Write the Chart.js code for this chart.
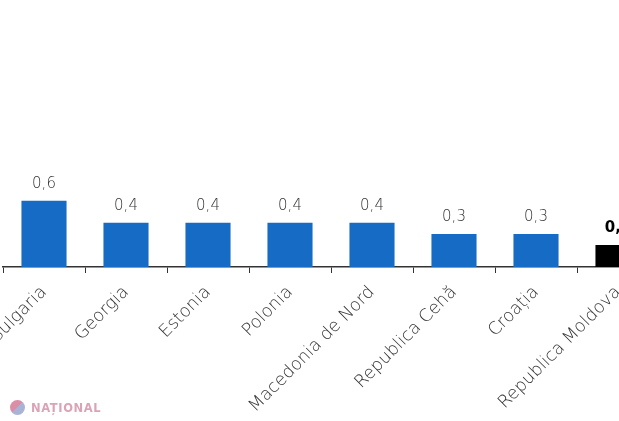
<!DOCTYPE html>
<html>
<head>
<meta charset="utf-8">
<script src="https://cdn.jsdelivr.net/npm/chart.js@4"></script>
<style>
  html, body { margin: 0; padding: 0; background: #fff; overflow: hidden; width: 619px; height: 421px; }
  #wrap { position: absolute; left: 0; top: 0; width: 659px; height: 421px; }
  #logo { position: absolute; left: 10px; top: 400px; display: flex; align-items: center; font-family: "DejaVu Sans", sans-serif; font-weight: bold; font-size: 11.5px; color: #dba3b6; letter-spacing: 0.6px; }
  #logo .dot { width: 15px; height: 15px; border-radius: 50%; background: linear-gradient(135deg, #d98fa6 50%, #a9b3d6 50%); margin-right: 6px; }
</style>
</head>
<body>
<div id="wrap"><canvas id="c" width="659" height="421"></canvas></div>
<div id="logo"><span class="dot"></span>NAȚIONAL</div>
<script>
const categories = ["Bulgaria", "Georgia", "Estonia", "Polonia", "Macedonia de Nord", "Republica Cehă", "Croația", "Republica Moldova"];
const values = [0.6, 0.4, 0.4, 0.4, 0.4, 0.3, 0.3, 0.2];
const labelsText = ["0,6", "0,4", "0,4", "0,4", "0,4", "0,3", "0,3", "0,2"];
const highlight = "Republica Moldova";

const barColors = categories.map(c => c === highlight ? "#000000" : "#166bc5");
const FONT = "'DejaVu Sans', sans-serif";

const valueLabels = {
  id: "valueLabels",
  afterDatasetsDraw(chart) {
    const ctx = chart.ctx;
    const meta = chart.getDatasetMeta(0);
    ctx.save();
    ctx.textAlign = "center";
    ctx.textBaseline = "alphabetic";
    meta.data.forEach((bar, i) => {
      const hi = categories[i] === highlight;
      ctx.font = (hi ? "bold " : "300 ") + "15px " + FONT;
      ctx.fillStyle = hi ? "#000" : "#333";
      ctx.fillText(labelsText[i], bar.x, bar.y - 13);
    });
    ctx.restore();
  }
};

new Chart(document.getElementById("c"), {
  type: "bar",
  data: {
    labels: categories,
    datasets: [{
      data: values,
      backgroundColor: barColors,
      borderWidth: 0,
      barPercentage: 0.55,
      categoryPercentage: 1.0
    }]
  },
  options: {
    responsive: false,
    animation: false,
    layout: { padding: { left: 3, right: 0, top: 0, bottom: 0 } },
    plugins: { legend: { display: false }, tooltip: { enabled: false } },
    scales: {
      x: {
        grid: { display: true, drawOnChartArea: false, offset: true, tickLength: 6, color: "#333", tickColor: "#333", tickWidth: 1 },
        border: { display: true, color: "#333", width: 1.5 },
        ticks: { minRotation: 45, maxRotation: 45, autoSkip: false, padding: 9, color: "#333", font: { family: FONT, size: 17.5, weight: 300 } },
        afterFit(scale) { scale.height = 154; scale.paddingLeft = 0; scale.paddingRight = 0; }
      },
      y: {
        display: false,
        min: 0,
        max: 2.42
      }
    }
  },
  plugins: [valueLabels]
});
</script>
</body>
</html>
